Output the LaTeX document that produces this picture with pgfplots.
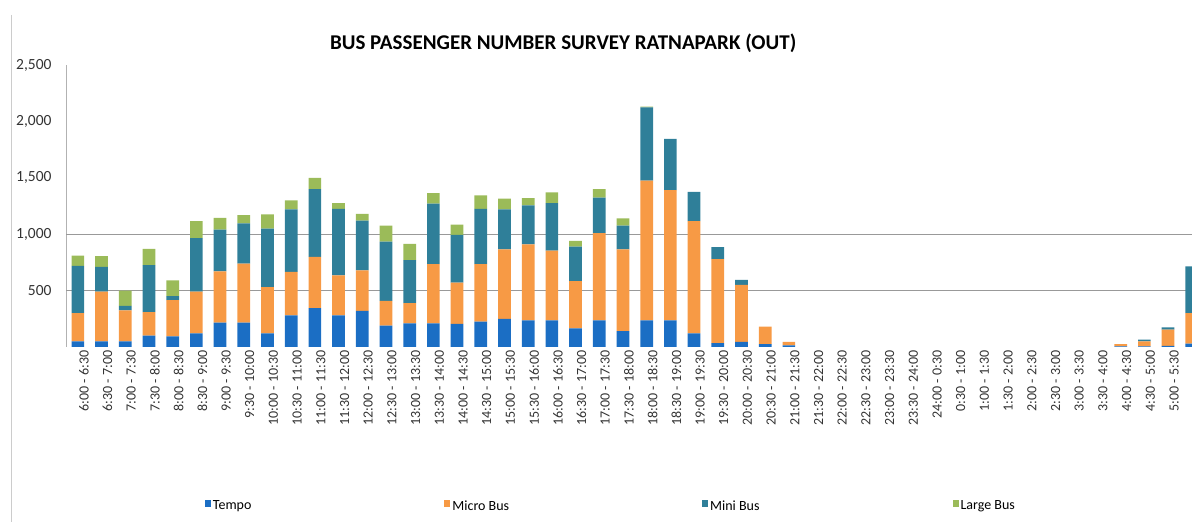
\documentclass[border=0pt]{standalone}
\usepackage{fontspec}
\setmainfont{Carlito}
\usepackage{pgfplots}
\usepackage{pgfplotstable}
\pgfplotsset{compat=1.18}

\definecolor{tempo}{HTML}{1B6EC4}
\definecolor{micro}{HTML}{F79A45}
\definecolor{mini}{HTML}{2F7F99}
\definecolor{large}{HTML}{9BBB59}

% passengers per half hour, Ratnapark (out)
\pgfplotstableread{
idx tempo micro mini large
0   50   250  420  90
1   50   440  220  95
2   50   275  40   135
3   100  210  415  145
4   95   320  35   140
5   120  370  475  150
6   215  455  370  105
7   215  525  355  75
8   120  410  520  125
9   280  385  555  80
10  345  455  600  100
11  280  355  590  50
12  320  360  440  60
13  190  220  525  140
14  210  180  380  145
15  210  525  535  95
16  205  365  425  90
17  225  510  490  120
18  250  615  355  95
19  235  675  345  65
20  235  620  420  95
21  165  420  305  50
22  235  775  315  75
23  140  725  210  65
24  235  1240 650  5
25  235  1155 455  0
26  120  995  260  0
27  35   745  105  0
28  45   505  45   0
29  25   155  0    0
30  15   30   0    0
31  0    0    0    0
32  0    0    0    0
33  0    0    0    0
34  0    0    0    0
35  0    0    0    0
36  0    0    0    0
37  0    0    0    0
38  0    0    0    0
39  0    0    0    0
40  0    0    0    0
41  0    0    0    0
42  0    0    0    0
43  0    0    0    0
44  5    20   0    0
45  5    45   15   0
46  10   145  20   0
47  30   270  415  0
}\passengers

\begin{document}
\begin{tikzpicture}
\useasboundingbox (0pt,0pt) rectangle (1192pt,522pt);
\clip (0pt,0pt) rectangle (1192pt,522pt);
% chart area border
\draw[gray!40, line width=1pt] (11pt,507pt) -- (11pt,0pt);
\begin{axis}[
  at={(66pt,175pt)}, anchor=south west,
  scale only axis, width=1137.6pt, height=282pt,
  ybar stacked, bar width=12.7pt,
  xmin=-0.5, xmax=47.5, ymin=0, ymax=2500,
  axis lines*=left, separate axis lines,
  x axis line style={draw=none},
  y axis line style={draw=gray!60, line width=0.8pt},
  tick style={draw=none},
  xtick=data,
  xticklabels={6:00 - 6:30, 6:30 - 7:00, 7:00 - 7:30, 7:30 - 8:00, 8:00 - 8:30, 8:30 - 9:00, 9:00 - 9:30, 9:30 - 10:00, 10:00 - 10:30, 10:30 - 11:00, 11:00 - 11:30, 11:30 - 12:00, 12:00 - 12:30, 12:30 - 13:00, 13:00 - 13:30, 13:30 - 14:00, 14:00 - 14:30, 14:30 - 15:00, 15:00 - 15:30, 15:30 - 16:00, 16:00 - 16:30, 16:30 - 17:00, 17:00 - 17:30, 17:30 - 18:00, 18:00 - 18:30, 18:30 - 19:00, 19:00 - 19:30, 19:30 - 20:00, 20:00 - 20:30, 20:30 - 21:00, 21:00 - 21:30, 21:30 - 22:00, 22:00 - 22:30, 22:30 - 23:00, 23:00 - 23:30, 23:30 - 24:00, 24:00 - 0:30, 0:30 - 1:00, 1:00 - 1:30, 1:30 - 2:00, 2:00 - 2:30, 2:30 - 3:00, 3:00 - 3:30, 3:30 - 4:00, 4:00 - 4:30, 4:30 - 5:00, 5:00 - 5:30, 5:30 - 6:00},
  xticklabel style={rotate=90, anchor=east, yshift=-6pt, font=\fontsize{14}{15}\selectfont, text=black!80},
  ytick={500,1000,1500,2000,2500},
  yticklabel style={xshift=-11pt, font=\fontsize{15.5}{17}\selectfont, text=black!80},
  /pgf/number format/.cd, assume math mode=true, 1000 sep={,},
  /pgfplots/.cd,
  extra y ticks={500,1000},
  extra y tick labels={},
  extra y tick style={grid=major, major grid style={draw=gray!80, line width=0.9pt}},
  title={BUS PASSENGER NUMBER SURVEY RATNAPARK (OUT)},
  title style={at={(axis description cs:0.437,1.055)}, anchor=center, font=\fontsize{21}{25}\selectfont\bfseries},
  legend columns=4,
  legend style={draw=none, fill=none, inner sep=0pt,
    at={(axis description cs:0.122,-0.564)}, anchor=west,
    font=\fontsize{14}{16}\selectfont,
    /tikz/every even column/.append style={column sep=191pt}},
]
\addplot[fill=tempo, draw=none, legend image code/.code={\fill[tempo] (0pt,-1pt) rectangle (6pt,6pt);}] table[x=idx, y=tempo] {\passengers};
\addplot[fill=micro, draw=none, legend image code/.code={\fill[micro] (0pt,-1pt) rectangle (6pt,6pt);}] table[x=idx, y=micro] {\passengers};
\addplot[fill=mini, draw=none, legend image code/.code={\fill[mini] (0pt,-1pt) rectangle (6pt,6pt);}] table[x=idx, y=mini] {\passengers};
\addplot[fill=large, draw=none, legend image code/.code={\fill[large] (0pt,-1pt) rectangle (6pt,6pt);}] table[x=idx, y=large] {\passengers};
\legend{Tempo, Micro Bus, Mini Bus, Large Bus}
\end{axis}
\end{tikzpicture}
\end{document}
